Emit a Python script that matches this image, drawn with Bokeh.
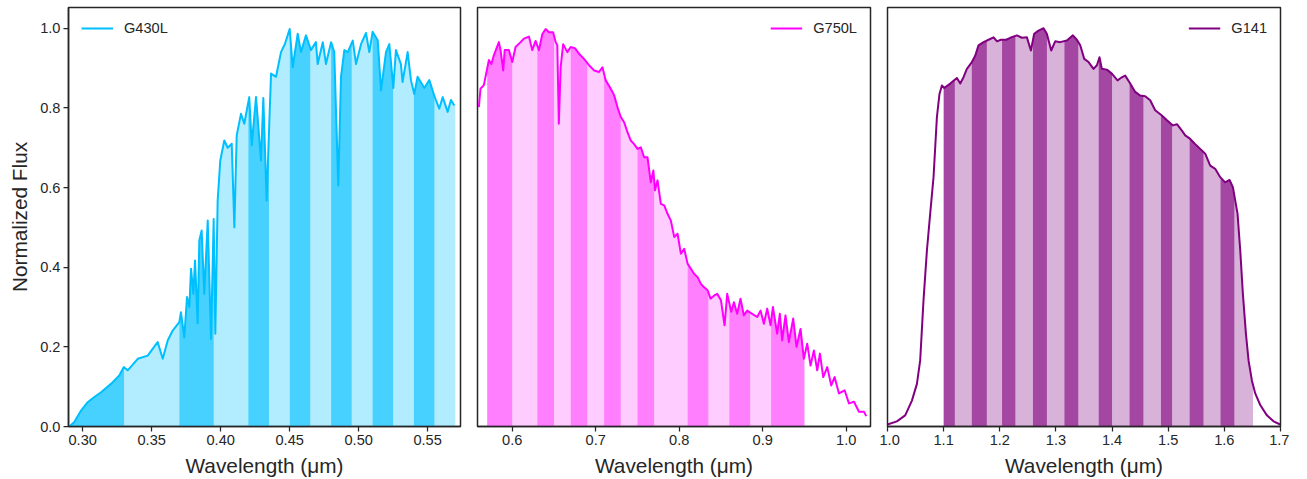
import numpy as np
from bokeh.plotting import figure
from bokeh.layouts import row
from bokeh.models import Range1d, FixedTicker, PrintfTickFormatter
from bokeh.embed import file_html
from bokeh.resources import INLINE

# ---------------- data ----------------
g430_wl = [0.2903, 0.2939, 0.2988, 0.3036, 0.3084, 0.3133, 0.3205, 0.3265, 0.3297, 0.3326,
           0.3399, 0.3471, 0.3543, 0.3580, 0.3616, 0.3652, 0.3700, 0.3712, 0.3736, 0.3756,
           0.3773, 0.3785, 0.3802, 0.3814, 0.3833, 0.3845, 0.3862, 0.3881, 0.3906, 0.3930,
           0.3949, 0.3961, 0.3978, 0.3997, 0.4026, 0.4051, 0.4080, 0.4099, 0.4116, 0.4147,
           0.4171, 0.4207, 0.4225, 0.4256, 0.4292, 0.4309, 0.4333, 0.4352, 0.4365, 0.4401,
           0.4437, 0.4466, 0.4500, 0.4522, 0.4558, 0.4582, 0.4618, 0.4654, 0.4690, 0.4703,
           0.4740, 0.4763, 0.4800, 0.4823, 0.4852, 0.4872, 0.4896, 0.4921, 0.4957, 0.4981,
           0.5017, 0.5053, 0.5077, 0.5101, 0.5138, 0.5162, 0.5198, 0.5222, 0.5251, 0.5270,
           0.5306, 0.5318, 0.5355, 0.5379, 0.5403, 0.5427, 0.5476, 0.5512, 0.5548, 0.5584,
           0.5609, 0.5645, 0.5669, 0.5693]
g430_flux = [0.000, 0.011, 0.040, 0.061, 0.074, 0.086, 0.107, 0.128, 0.149, 0.141,
             0.170, 0.178, 0.212, 0.170, 0.216, 0.241, 0.262, 0.287, 0.224, 0.325,
             0.300, 0.396, 0.333, 0.417, 0.259, 0.467, 0.492, 0.333, 0.517, 0.220,
             0.521, 0.233, 0.567, 0.668, 0.718, 0.700, 0.710, 0.500, 0.731, 0.785,
             0.760, 0.827, 0.706, 0.827, 0.668, 0.825, 0.567, 0.760, 0.886, 0.878,
             0.940, 0.961, 0.998, 0.902, 0.986, 0.940, 0.982, 0.945, 0.965, 0.910,
             0.965, 0.910, 0.965, 0.940, 0.605, 0.878, 0.945, 0.940, 0.969, 0.910,
             0.960, 0.988, 0.940, 0.991, 0.970, 0.844, 0.940, 0.960, 0.850, 0.945,
             0.910, 0.865, 0.940, 0.869, 0.835, 0.878, 0.850, 0.870, 0.830, 0.798,
             0.827, 0.790, 0.820, 0.806]
g430_edges = [0.29, 0.33, 0.37, 0.395, 0.42, 0.435, 0.45, 0.465, 0.48, 0.495,
              0.51, 0.525, 0.54, 0.555, 0.57]

g750_wl = [0.5600, 0.5620, 0.5660, 0.5692, 0.5720, 0.5750, 0.5780, 0.5840, 0.5860, 0.5892,
           0.5910, 0.5960, 0.6000, 0.6040, 0.6100, 0.6140, 0.6200, 0.6240, 0.6280, 0.6320,
           0.6360, 0.6400, 0.6440, 0.6490, 0.6520, 0.6540, 0.6558, 0.6580, 0.6610, 0.6660,
           0.6700, 0.6750, 0.6800, 0.6860, 0.6920, 0.6980, 0.7040, 0.7080, 0.7120, 0.7180,
           0.7220, 0.7260, 0.7300, 0.7340, 0.7380, 0.7420, 0.7460, 0.7500, 0.7540, 0.7580,
           0.7620, 0.7660, 0.7690, 0.7710, 0.7740, 0.7780, 0.7820, 0.7860, 0.7900, 0.7940,
           0.7980, 0.8020, 0.8060, 0.8100, 0.8140, 0.8180, 0.8220, 0.8260, 0.8295, 0.8340,
           0.8375, 0.8420, 0.8455, 0.8500, 0.8543, 0.8575, 0.8623, 0.8655, 0.8694, 0.8734,
           0.8774, 0.8814, 0.8874, 0.8934, 0.8974, 0.9014, 0.9054, 0.9094, 0.9122, 0.9173,
           0.9205, 0.9233, 0.9273, 0.9313, 0.9365, 0.9405, 0.9453, 0.9493, 0.9533, 0.9573,
           0.9613, 0.9653, 0.9685, 0.9725, 0.9773, 0.9821, 0.9861, 0.9913, 0.9981, 1.0033,
           1.0093, 1.0153, 1.0213, 1.0240]
g750_flux = [0.802, 0.848, 0.857, 0.890, 0.920, 0.910, 0.932, 0.965, 0.945, 0.894,
             0.945, 0.945, 0.915, 0.953, 0.965, 0.974, 0.979, 0.945, 0.968, 0.945,
             0.985, 0.998, 0.990, 0.990, 0.965, 0.957, 0.760, 0.902, 0.960, 0.940,
             0.953, 0.950, 0.936, 0.923, 0.907, 0.894, 0.890, 0.902, 0.869, 0.848,
             0.832, 0.802, 0.777, 0.764, 0.739, 0.718, 0.709, 0.697, 0.701, 0.676,
             0.676, 0.613, 0.643, 0.593, 0.618, 0.559, 0.555, 0.534, 0.517, 0.476,
             0.484, 0.434, 0.446, 0.409, 0.396, 0.383, 0.375, 0.358, 0.350, 0.342,
             0.321, 0.329, 0.333, 0.317, 0.254, 0.333, 0.288, 0.312, 0.283, 0.321,
             0.279, 0.291, 0.283, 0.275, 0.291, 0.258, 0.296, 0.254, 0.300, 0.233,
             0.283, 0.216, 0.279, 0.212, 0.271, 0.200, 0.245, 0.170, 0.208, 0.153,
             0.191, 0.141, 0.183, 0.124, 0.149, 0.103, 0.124, 0.083, 0.091, 0.058,
             0.062, 0.037, 0.037, 0.026]
g750_edges = [0.57, 0.60, 0.63, 0.65, 0.67, 0.69, 0.71, 0.73, 0.75, 0.77,
              0.81, 0.835, 0.86, 0.885, 0.91, 0.95]

g141_wl = [1.0000, 1.0167, 1.0315, 1.0435, 1.0524, 1.0582, 1.0641, 1.0702, 1.0760, 1.0820,
           1.0880, 1.0926, 1.0969, 1.1010, 1.1117, 1.1236, 1.1296, 1.1354, 1.1414, 1.1503,
           1.1562, 1.1621, 1.1711, 1.1800, 1.1890, 1.1950, 1.2020, 1.2115, 1.2186, 1.2305,
           1.2394, 1.2483, 1.2554, 1.2613, 1.2690, 1.2779, 1.2838, 1.2916, 1.2987, 1.3076,
           1.3195, 1.3302, 1.3373, 1.3433, 1.3504, 1.3581, 1.3670, 1.3730, 1.3776, 1.3818,
           1.3907, 1.3996, 1.4097, 1.4156, 1.4234, 1.4323, 1.4412, 1.4501, 1.4590, 1.4679,
           1.4768, 1.4887, 1.4977, 1.5084, 1.5155, 1.5244, 1.5303, 1.5392, 1.5481, 1.5570,
           1.5659, 1.5748, 1.5837, 1.5926, 1.6015, 1.6093, 1.6152, 1.6194, 1.6235, 1.6283,
           1.6330, 1.6384, 1.6431, 1.6491, 1.6550, 1.6639, 1.6758, 1.6876, 1.6995]
g141_flux = [0.005, 0.013, 0.028, 0.065, 0.107, 0.166, 0.316, 0.442, 0.534, 0.626,
             0.777, 0.835, 0.856, 0.850, 0.861, 0.875, 0.861, 0.877, 0.898, 0.915,
             0.931, 0.957, 0.965, 0.971, 0.977, 0.967, 0.971, 0.971, 0.976, 0.982,
             0.976, 0.977, 0.944, 0.986, 0.994, 1.000, 0.986, 0.944, 0.967, 0.965,
             0.969, 0.982, 0.971, 0.957, 0.923, 0.915, 0.898, 0.907, 0.927, 0.898,
             0.896, 0.886, 0.869, 0.875, 0.881, 0.861, 0.840, 0.831, 0.829, 0.819,
             0.794, 0.781, 0.769, 0.756, 0.759, 0.743, 0.731, 0.722, 0.709, 0.697,
             0.685, 0.655, 0.647, 0.626, 0.613, 0.619, 0.601, 0.567, 0.534, 0.442,
             0.333, 0.233, 0.166, 0.115, 0.083, 0.054, 0.028, 0.013, 0.005]
g141_edges = [1.10, 1.12, 1.15, 1.177, 1.204, 1.228, 1.259, 1.284, 1.315, 1.34,
              1.376, 1.40, 1.431, 1.456, 1.487, 1.507, 1.538, 1.563, 1.593, 1.618, 1.651]

y_ticks = [0.0, 0.2, 0.4, 0.6, 0.8, 1.0]
g430_ticks = [0.30, 0.35, 0.40, 0.45, 0.50, 0.55]
g750_ticks = [0.6, 0.7, 0.8, 0.9, 1.0]
g141_ticks = [1.0, 1.1, 1.2, 1.3, 1.4, 1.5, 1.6, 1.7]

FONT = "Liberation Sans"
TXT = "#262626"
FRAME_H = 419


def bin_polys(wl, flux, edges):
    wl = np.asarray(wl, dtype=float)
    flux = np.asarray(flux, dtype=float)
    dark_x, dark_y, light_x, light_y = [], [], [], []
    for i in range(len(edges) - 1):
        a, b = edges[i], edges[i + 1]
        inside = (wl > a) & (wl < b)
        xs = [a] + wl[inside].tolist() + [b]
        ys = [float(np.interp(a, wl, flux))] + flux[inside].tolist() + [float(np.interp(b, wl, flux))]
        px = xs + [b, a]
        py = ys + [0.0, 0.0]
        if i % 2 == 0:
            dark_x.append(px); dark_y.append(py)
        else:
            light_x.append(px); light_y.append(py)
    return dark_x, dark_y, light_x, light_y


def make_panel(wl, flux, edges, color, a_light, a_dark, xr, ticks, fmt, label,
               legend_loc, first, frame_w):
    p = figure(frame_width=frame_w, frame_height=FRAME_H,
               x_range=Range1d(*xr), y_range=Range1d(0, 1.052),
               output_backend="svg", toolbar_location=None,
               min_border_left=68 if first else 8, min_border_right=9,
               min_border_top=7, min_border_bottom=53)
    dx, dy, lx, ly = bin_polys(wl, flux, edges)
    p.patches(lx, ly, fill_color=color, fill_alpha=a_light, line_color=color,
              line_alpha=0.0)
    p.patches(dx, dy, fill_color=color, fill_alpha=a_dark, line_color=color,
              line_alpha=0.0)
    p.line(wl, flux, line_color=color, line_width=2, line_join="round",
           legend_label=label)

    p.xgrid.visible = False
    p.ygrid.visible = False
    p.outline_line_color = TXT
    p.outline_line_width = 1.5
    p.outline_line_alpha = 1.0
    p.background_fill_color = "white"
    p.border_fill_color = "white"

    axes = [p.xaxis[0]]
    if first:
        axes.append(p.yaxis[0])
        p.yaxis.ticker = FixedTicker(ticks=y_ticks)
        p.yaxis.formatter = PrintfTickFormatter(format="%.1f")
        p.yaxis.axis_label = "Normalized Flux"
    else:
        p.yaxis.visible = False
    p.xaxis.ticker = FixedTicker(ticks=ticks)
    p.xaxis.formatter = PrintfTickFormatter(format=fmt)
    p.xaxis.axis_label = "Wavelength (μm)"
    for ax in axes:
        ax.axis_line_color = TXT
        ax.axis_line_width = 1.5
        ax.major_tick_line_color = TXT
        ax.major_tick_line_width = 1.25
        ax.major_tick_out = 5
        ax.major_tick_in = 0
        ax.minor_tick_out = 0
        ax.minor_tick_in = 0
        ax.major_label_text_font = FONT
        ax.major_label_text_font_size = "14.6px"
        ax.major_label_text_color = TXT
        ax.major_label_standoff = 3
        ax.axis_label_text_font = FONT
        ax.axis_label_text_font_size = "20.8px"
        ax.axis_label_text_font_style = "normal"
        ax.axis_label_text_color = TXT
        ax.axis_label_standoff = 6

    lg = p.legend[0]
    lg.location = legend_loc
    lg.border_line_alpha = 0
    lg.background_fill_alpha = 0
    lg.label_text_font = FONT
    lg.label_text_font_size = "14.6px"
    lg.label_text_color = TXT
    lg.glyph_width = 32
    lg.glyph_height = 14
    lg.label_height = 14
    lg.label_standoff = 11
    lg.margin = 5
    lg.padding = 8
    lg.spacing = 0
    return p


p1 = make_panel(g430_wl, g430_flux, g430_edges, "#00BFFF", 0.3, 0.72,
                (0.2897, 0.5738), g430_ticks, "%.2f", "G430L", "top_left", True, 392)
p2 = make_panel(g750_wl, g750_flux, g750_edges, "#FF00FF", 0.2, 0.5,
                (0.5584, 1.0291), g750_ticks, "%.1f", "G750L", "top_right", False, 393)
p3 = make_panel(g141_wl, g141_flux, g141_edges, "#800080", 0.3, 0.72,
                (1.0, 1.7), g141_ticks, "%.1f", "G141", "top_right", False, 393)

layout = row(p1, p2, p3, spacing=0)
open("out.html", "w").write(file_html(layout, INLINE))
